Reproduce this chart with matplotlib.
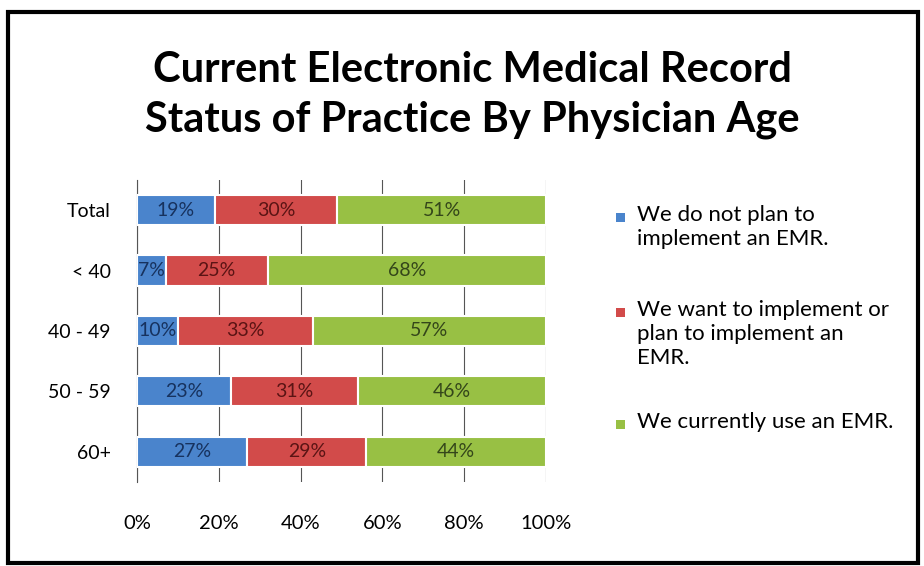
import numpy as np
import matplotlib.pyplot as plt
from matplotlib.patches import Rectangle

# =============================================================================
# Data
# =============================================================================
groups     = ['Total', '< 40', '40 - 49', '50 - 59', '60+']
not_plan   = [19, 7, 10, 23, 27]
want_plan  = [30, 25, 33, 31, 29]
use_emr    = [51, 68, 57, 46, 44]
series_lab = ['We do not plan to\nimplement an EMR.',
              'We want to implement or\nplan to implement an\nEMR.',
              'We currently use an EMR.']
xticks     = [0, 20, 40, 60, 80, 100]

colors     = ['#4a84cc', '#d24b4a', '#98c044']
txtcolors  = ['#17325e', '#5a1414', '#34461a']

plt.rcParams['font.family'] = ['Lato', 'DejaVu Sans']

# =============================================================================
# Plot
# =============================================================================
W, H = 924, 566
fig = plt.figure(figsize=(W/100, H/100), dpi=100)
fig.patches.append(Rectangle((0.009, 0.005), 0.985, 0.973, transform=fig.transFigure,
                             fill=False, edgecolor='black', linewidth=3))

ax = fig.add_axes([137/W, 1-482/H, (546-137)/W, (482-180)/H])
y = np.arange(len(groups))
left = np.zeros(len(groups))
for vals, c, tc in zip([not_plan, want_plan, use_emr], colors, txtcolors):
    vals = np.array(vals, dtype=float)
    ax.barh(y, vals, left=left, height=0.5, color=c, edgecolor='white',
            linewidth=1.5, zorder=3)
    for v, l, yy in zip(vals, left, y):
        ax.text(l+v/2, yy, '%d%%' % v, ha='center', va='center', fontsize=14,
                color=tc, zorder=4)
    left += vals

ax.set_xlim(0, 100)
ax.set_ylim(len(groups)-0.5, -0.5)
ax.set_yticks(y)
ax.set_yticklabels(groups, fontsize=14)
ax.set_xticks(xticks)
ax.set_xticklabels(['%d%%' % t for t in xticks], fontsize=14.5)
ax.tick_params(axis='y', length=0, pad=19)
ax.tick_params(axis='x', length=0, pad=24)
ax.grid(axis='x', color='#555555', linewidth=0.8, zorder=0)
for s in ['top', 'right', 'bottom']:
    ax.spines[s].set_visible(False)
ax.spines['left'].set_color('#555555')
ax.spines['left'].set_linewidth(0.8)

fig.text(472/W, 1-95/H, 'Current Electronic Medical Record\nStatus of Practice By Physician Age',
         ha='center', va='center', fontsize=30, fontweight='bold', linespacing=1.4)

# legend, drawn by hand to keep the wrapped entries top-aligned
leg_y = [218, 313, 425]
for lab, c, yy in zip(series_lab, colors, leg_y):
    fig.patches.append(Rectangle((616/W, 1-(yy+4)/H), 9/W, 9/H, transform=fig.transFigure,
                                 facecolor=c, edgecolor='none'))
    fig.text(637/W, 1-(yy-13)/H, lab, ha='left', va='top', fontsize=16,
             linespacing=1.25)

fig.savefig('out.png', dpi=100)
